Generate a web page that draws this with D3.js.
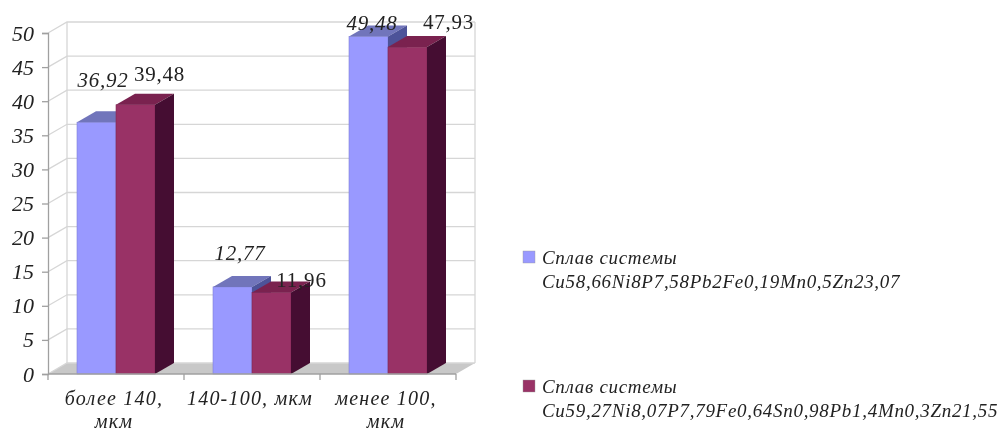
<!DOCTYPE html>
<html>
<head>
<meta charset="utf-8">
<script src="https://cdn.jsdelivr.net/npm/d3@7"></script>
<style>
    html, body { margin: 0; padding: 0; background: #fff; }
    svg { display: block; }
    text { font-family: "Liberation Serif", serif; fill: #222; }
</style>
</head>
<body>
<div id="chart"></div>
<script>
const categories = ["более 140, мкм", "140-100, мкм", "менее 100, мкм"];
const seriesA = [36.92, 12.77, 49.48];
const seriesB = [39.48, 11.96, 47.93];
const labelsA = ["36,92", "12,77", "49,48"];
const labelsB = ["39,48", "11,96", "47,93"];
const yTicks = [0, 5, 10, 15, 20, 25, 30, 35, 40, 45, 50];
const legendHead = "Сплав системы";
const legendA = "Cu58,66Ni8P7,58Pb2Fe0,19Mn0,5Zn23,07";
const legendB = "Cu59,27Ni8,07P7,79Fe0,64Sn0,98Pb1,4Mn0,3Zn21,55";

const width = 1000;
const height = 432;
// fake 3d depth of the plot box and the bars
const depthX = 19;
const depthY = 11;

const x = d3.scaleBand().domain(categories).range([48, 456]);
const xInner = d3.scaleBand().domain([0, 1]).range([29, 107]);
const y = d3.scaleLinear().domain([0, 50]).range([374, 33]);

const barColors = [
    { front: "#9999ff", top: "#7175bb", side: "#4d5299" },
    { front: "#993366", top: "#7a2350", side: "#451030" }
];

const svg = d3.select("#chart").append("svg")
    .attr("width", width)
    .attr("height", height)
    .attr("viewBox", [0, 0, width, height]);

// original is a soft scan, so blur everything slightly
svg.append("filter").attr("id", "soft")
    .attr("x", 0).attr("y", 0).attr("width", 1).attr("height", 1)
    .append("feGaussianBlur").attr("stdDeviation", 0.5);

const root = svg.append("g").attr("filter", "url(#soft)");
root.append("rect").attr("width", width).attr("height", height).attr("fill", "#fff");

const x0 = x.range()[0];
const x1 = x.range()[1];

// floor
root.append("polygon")
    .attr("fill", "#c8c8c8")
    .attr("points", [[x0, y(0)], [x0 + depthX, y(0) - depthY], [x1 + depthX, y(0) - depthY], [x1, y(0)]].join(" "));

// grid lines on the side and back walls
const grid = root.append("g").attr("fill", "none").attr("stroke", "#d6d6d6").attr("stroke-width", 1.3);
grid.selectAll("path")
    .data(yTicks)
    .join("path")
    .attr("d", d => `M${x0},${y(d)}L${x0 + depthX},${y(d) - depthY}L${x1 + depthX},${y(d) - depthY}`);
grid.selectAll("line")
    .data([x0 + depthX, x1 + depthX])
    .join("line")
    .attr("x1", d => d).attr("x2", d => d)
    .attr("y1", y(0) - depthY).attr("y2", y(50) - depthY);

// bars, one group per category so the second bar covers the side of the first
const w = xInner.bandwidth();
const barGroups = root.append("g").selectAll("g")
    .data(categories)
    .join("g")
    .attr("transform", d => `translate(${x(d)},0)`);
const bars = barGroups.selectAll("g")
    .data((d, i) => [seriesA[i], seriesB[i]].map((v, s) => ({ v, s })))
    .join("g");
bars.append("rect")
    .attr("x", d => xInner(d.s))
    .attr("y", d => y(d.v))
    .attr("width", w)
    .attr("height", d => y(0) - y(d.v))
    .attr("fill", d => barColors[d.s].front)
    .attr("stroke", d => d3.color(barColors[d.s].front).darker(0.5))
    .attr("stroke-width", 0.6);
bars.append("polygon")
    .attr("fill", d => barColors[d.s].top)
    .attr("points", d => {
        const a = xInner(d.s);
        return [[a, y(d.v)], [a + depthX, y(d.v) - depthY], [a + w + depthX, y(d.v) - depthY], [a + w, y(d.v)]].join(" ");
    });
bars.append("polygon")
    .attr("fill", d => barColors[d.s].side)
    .attr("points", d => {
        const a = xInner(d.s) + w;
        return [[a, y(d.v)], [a + depthX, y(d.v) - depthY], [a + depthX, y(0) - depthY], [a, y(0)]].join(" ");
    });

// y axis
const yAxis = root.append("g")
    .attr("transform", `translate(${x0},0)`)
    .call(d3.axisLeft(y).tickValues(yTicks).tickSize(6).tickPadding(8));
yAxis.selectAll("path, line").attr("stroke", "#a0a0a0").attr("stroke-width", 1.3);
yAxis.selectAll("text")
    .attr("font-family", "Liberation Serif")
    .attr("font-style", "italic")
    .attr("font-size", 22)
    .attr("fill", "#222");

// x axis, ticks sit between the categories
const xAxis = root.append("g");
xAxis.append("line")
    .attr("x1", x0).attr("x2", x1)
    .attr("y1", y(0)).attr("y2", y(0))
    .attr("stroke", "#a0a0a0").attr("stroke-width", 1.3);
xAxis.selectAll(".tick")
    .data([...categories.map(c => x(c)), x1])
    .join("line")
    .attr("class", "tick")
    .attr("x1", d => d).attr("x2", d => d)
    .attr("y1", y(0)).attr("y2", y(0) + 6)
    .attr("stroke", "#a0a0a0").attr("stroke-width", 1.3);

const catLabels = xAxis.selectAll(".cat")
    .data(categories)
    .join("text")
    .attr("class", "cat")
    .attr("text-anchor", "middle")
    .attr("font-style", "italic")
    .attr("font-size", 20)
    .attr("letter-spacing", 1.2)
    .attr("y", 405);
catLabels.each(function (d) {
    const t = d3.select(this);
    const cx = x(d) + x.bandwidth() / 2 - 2;
    // wrap only the long names, same as the original
    const lines = d.length > 12 ? [d.slice(0, d.lastIndexOf(" ")), d.slice(d.lastIndexOf(" ") + 1)] : [d];
    lines.forEach((line, i) => {
        t.append("tspan").attr("x", cx).attr("dy", i ? 22.5 : 0).text(line);
    });
});

// value labels, moved by hand the way they are in the picture
const nudgeA = [[6.5, -35], [7.5, -27], [3.5, -7]];
const nudgeB = [[24, -24], [30, -5], [41, -18]];
function drawLabels(values, labels, nudge, idx, style) {
    root.append("g").selectAll("text")
        .data(values)
        .join("text")
        .attr("text-anchor", "middle")
        .attr("font-size", 21)
        .attr("letter-spacing", 0.8)
        .attr("font-style", style)
        .attr("x", (d, i) => x(categories[i]) + xInner(idx) + w / 2 + nudge[i][0])
        .attr("y", (d, i) => y(d) + nudge[i][1])
        .text((d, i) => labels[i]);
}
drawLabels(seriesA, labelsA, nudgeA, 0, "italic");
drawLabels(seriesB, labelsB, nudgeB, 1, "normal");

// legend
const legend = root.append("g").selectAll("g")
    .data([[legendA, barColors[0].front, 251], [legendB, barColors[1].front, 380]])
    .join("g")
    .attr("transform", d => `translate(523,${d[2]})`);
legend.append("rect")
    .attr("width", 12).attr("height", 12)
    .attr("fill", d => d[1])
    .attr("stroke", "#999").attr("stroke-width", 0.4);
legend.append("text")
    .attr("x", 19).attr("y", 13)
    .attr("font-style", "italic").attr("font-size", 19)
    .attr("letter-spacing", 0.7)
    .text(legendHead);
legend.append("text")
    .attr("x", 19).attr("y", 37)
    .attr("font-style", "italic").attr("font-size", 19)
    .attr("letter-spacing", 0.7)
    .text(d => d[0]);
</script>
</body>
</html>
